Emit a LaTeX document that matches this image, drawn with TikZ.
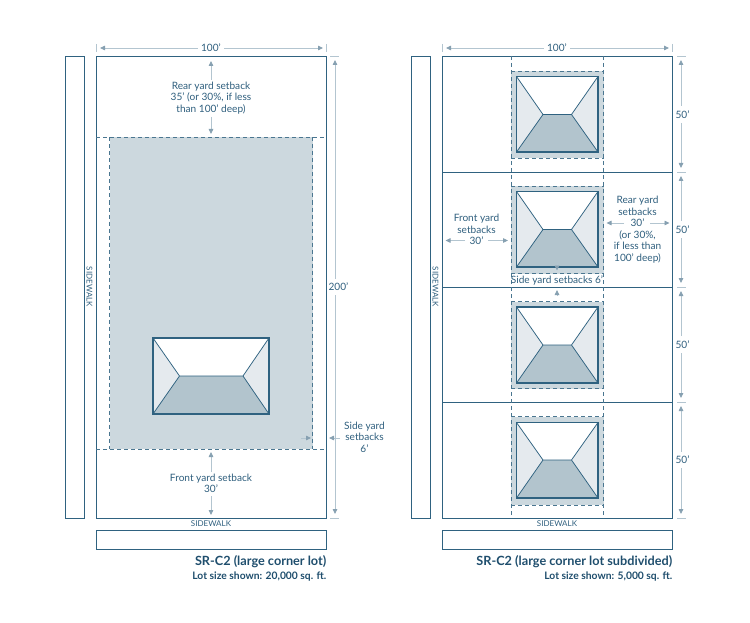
\documentclass[tikz,border=0pt]{standalone}
\usepackage{fontspec}
\setmainfont{Lato}
\usetikzlibrary{arrows.meta}
\definecolor{ink}{HTML}{2F6280}
\definecolor{dash}{HTML}{4A7690}
\definecolor{txt}{HTML}{2F5F7E}
\definecolor{head}{HTML}{1F4E6D}
\definecolor{dimc}{HTML}{B3C5D0}
\definecolor{arrowc}{HTML}{86A0B1}
\definecolor{yard}{HTML}{CCD8DE}
\definecolor{roof}{HTML}{B2C4CD}
\definecolor{sidec}{HTML}{E5EAEE}
\tikzset{
  lot/.style={draw=ink,line width=.95pt,fill=white},
  divider/.style={draw=ink,line width=.95pt},
  setback/.style={draw=dash,line width=.7pt,dash pattern=on 4pt off 3pt},
  dimarrow/.style={draw=dimc,line width=.8pt,-{Triangle[length=5pt,width=4.5pt,color=arrowc,fill=arrowc]}},
  tickmark/.style={draw=dimc,line width=.7pt},
  txtlabel/.style={text=txt,font=\fontsize{10.1}{11.5}\selectfont,align=center,inner sep=0pt},
  walk/.style={text=txt,font=\fontsize{8}{9}\selectfont,inner sep=0pt},
  bigtitle/.style={text=head,font=\bfseries\fontsize{12.7}{14}\selectfont,anchor=east,inner sep=0pt},
  subtitle/.style={text=head,font=\bfseries\fontsize{10.3}{11}\selectfont,anchor=east,inner sep=0pt},
  roofline/.style={draw=ink,line width=.75pt,line join=round},
  houseline/.style={draw=ink,line width=1.1pt}
}
% house: left right top bottom ridgeleft ridgeright ridgey
\newcommand{\myhouse}[7]{%
  \fill[white] (#1,#3) rectangle (#2,#4);
  \fill[sidec] (#1,#3) -- (#5,#7) -- (#1,#4) -- cycle;
  \fill[sidec] (#2,#3) -- (#6,#7) -- (#2,#4) -- cycle;
  \fill[roof] (#1,#4) -- (#5,#7) -- (#6,#7) -- (#2,#4) -- cycle;
  \draw[roofline] (#1,#3) -- (#5,#7) -- (#1,#4) (#2,#3) -- (#6,#7) -- (#2,#4) (#5,#7) -- (#6,#7);
  \draw[houseline] (#1,#3) rectangle (#2,#4);
}
\begin{document}
\begin{tikzpicture}[x=1pt,y=-1pt]
\useasboundingbox (0,0) rectangle (750,623);
% ---------- left plan ----------
\draw[lot] (65,56) rectangle (84,518);
\draw[lot] (96,56) rectangle (326.5,518);
\draw[lot] (96,530) rectangle (326.5,549);
\fill[yard] (109.5,137.5) rectangle (312.5,449);
\draw[setback] (96,137.5) -- (326.5,137.5);
\draw[setback] (96,449) -- (326.5,449);
\draw[setback] (109.5,137.5) -- (109.5,449);
\draw[setback] (312.5,137.5) -- (312.5,449);
\myhouse{153}{269}{338}{414}{179.5}{243}{376}
\node[walk,rotate=-90] (walkL) at (89.6,287) {SIDEWALK};
\node[walk] (walkLb) at (211,524) {SIDEWALK};
% 100'
\draw[tickmark] (96,44) -- (96,52) (326.5,44) -- (326.5,52);
\node[txtlabel] (w1) at (211,48) {100'};
\draw[dimarrow] (w1.west) ++(-3,0) -- (100,48);
\draw[dimarrow] (w1.east) ++(3,0) -- (323,48);
% 200'
\draw[tickmark] (330,56) -- (339,56) (330,518) -- (339,518);
\draw[dimarrow] (335,279) -- (335,60);
\draw[dimarrow] (335,295) -- (335,514);
\node[txtlabel,fill=white,inner sep=2pt] (h1) at (338.5,287) {200'};
% rear
\node[txtlabel] (rear) at (211,98) {Rear yard setback\\35' (or 30\%, if less\\than 100' deep)};
\draw[dimarrow] (211,80) -- (211,61);
\draw[dimarrow] (211,117) -- (211,134);
% front
\node[txtlabel] (front) at (211,483.5) {Front yard setback\\30'};
\draw[dimarrow] (211,472) -- (211,452);
\draw[dimarrow] (211,496) -- (211,515);
% side
\node[txtlabel] (sideL) at (364.5,437) {Side yard\\setbacks\\6'};
\draw[dimarrow] (340,438) -- (329,438);
\draw[dimarrow] (301,438) -- (311,438);
\node[bigtitle] (t1) at (326.5,562) {SR-C2 (large corner lot)};
\node[subtitle] (s1) at (326.5,577) {Lot size shown: 20,000 sq. ft.};
% ---------- right plan ----------
\draw[lot] (411,56) rectangle (430,518);
\draw[lot] (442,56) rectangle (672.5,518);
\draw[lot] (442,530) rectangle (672.5,549);
\draw[divider] (442,172) -- (672.5,172) (442,287) -- (672.5,287) (442,402.5) -- (672.5,402.5);
\fill[yard] (511,71) rectangle (603.5,158);
\fill[yard] (511,186) rectangle (603.5,273.5);
\fill[yard] (511,301.5) rectangle (603.5,388.5);
\fill[yard] (511,416.5) rectangle (603.5,505);
\draw[setback] (511,56) -- (511,518);
\draw[setback] (603.5,56) -- (603.5,518);
\draw[setback] (511,71) -- (603.5,71) (511,158) -- (603.5,158);
\draw[setback] (511,186) -- (603.5,186) (511,273.5) -- (603.5,273.5);
\draw[setback] (511,301.5) -- (603.5,301.5) (511,388.5) -- (603.5,388.5);
\draw[setback] (511,416.5) -- (603.5,416.5) (511,505) -- (603.5,505);
\myhouse{516.5}{598}{76.5}{152}{543}{571.5}{114.5}
\myhouse{516.5}{598}{191.5}{267}{543}{571.5}{229.5}
\myhouse{516.5}{598}{307}{383}{543}{571.5}{345}
\myhouse{516.5}{598}{422.5}{498}{543}{571.5}{460}
\node[walk,rotate=-90] (walkR) at (435.6,287) {SIDEWALK};
\node[walk] (walkRb) at (557,524) {SIDEWALK};
\draw[tickmark] (442,44) -- (442,52) (672.5,44) -- (672.5,52);
\node[txtlabel] (w2) at (557,48) {100'};
\draw[dimarrow] (w2.west) ++(-3,0) -- (446,48);
\draw[dimarrow] (w2.east) ++(3,0) -- (669,48);
% 50' stack
\draw[tickmark] (677,56) -- (686,56) (677,172) -- (686,172) (677,287) -- (686,287) (677,402.5) -- (686,402.5) (677,518) -- (686,518);
\draw[dimarrow] (681,106) -- (681,60);
\draw[dimarrow] (681,123) -- (681,168);
\draw[dimarrow] (681,221) -- (681,176);
\draw[dimarrow] (681,238) -- (681,283);
\draw[dimarrow] (681,336) -- (681,291);
\draw[dimarrow] (681,353) -- (681,398);
\draw[dimarrow] (681,452) -- (681,406);
\draw[dimarrow] (681,468) -- (681,514);
\node[txtlabel,fill=white,inner sep=2pt] (f1) at (682.5,114.5) {50'};
\node[txtlabel,fill=white,inner sep=2pt] (f2) at (682.5,229.5) {50'};
\node[txtlabel,fill=white,inner sep=2pt] (f3) at (682.5,344.5) {50'};
\node[txtlabel,fill=white,inner sep=2pt] (f4) at (682.5,460) {50'};
% tier-two callouts
\node[txtlabel] (frontR) at (476.5,229.5) {Front yard\\setbacks\\30'};
\draw[dimarrow] (465,240.5) -- (445.5,240.5);
\draw[dimarrow] (488,240.5) -- (508,240.5);
\node[txtlabel] (rearR) at (637.5,229.5) {Rear yard\\setbacks\\30'\\(or 30\%,\\if less than\\100' deep)};
\draw[dimarrow] (624,223) -- (606.5,223);
\draw[dimarrow] (650,223) -- (669.5,223);
\node[txtlabel] (sideR) at (557,280.5) {Side yard setbacks 6'};
\draw[dimarrow] (557,263) -- (557,270.5);
\draw[dimarrow] (557,296) -- (557,290);
\node[bigtitle] (t2) at (672.5,562) {SR-C2 (large corner lot subdivided)};
\node[subtitle] (s2) at (672.5,577) {Lot size shown: 5,000 sq. ft.};
\end{tikzpicture}
\end{document}
